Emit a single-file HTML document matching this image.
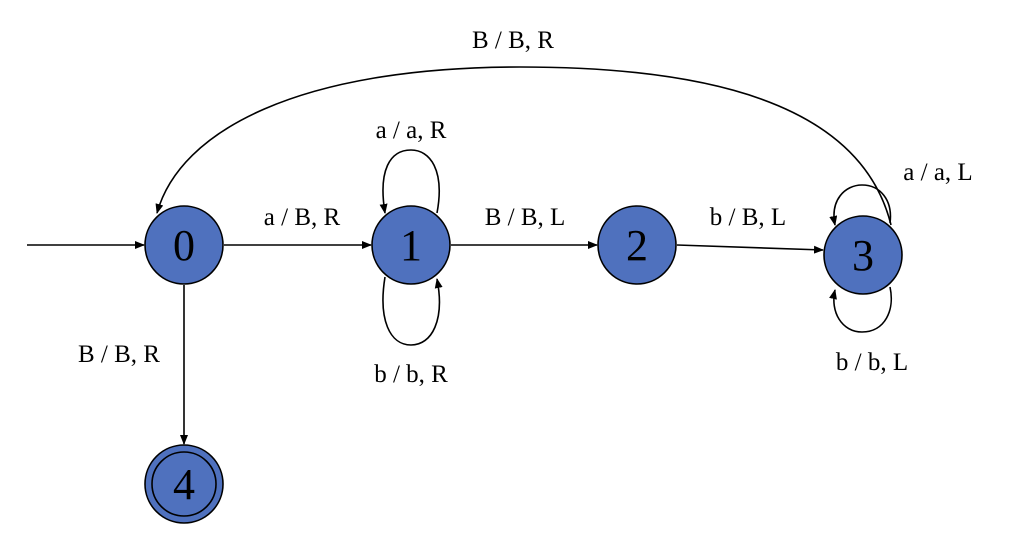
<!DOCTYPE html>
<html><head><style>body{margin:0;background:#fff}svg{display:block}text{font-family:"Liberation Serif",serif;fill:#000}</style></head><body>
<svg width="1018" height="548" viewBox="0 0 1018 548">
<defs><marker id="a" markerWidth="10" markerHeight="8" refX="9" refY="4" orient="auto" markerUnits="userSpaceOnUse"><path d="M0,0L10,4L0,8z" fill="#000"/></marker></defs>
<g stroke="#000" stroke-width="1.6" fill="none">
<line x1="27" y1="245" x2="144" y2="245" marker-end="url(#a)"/>
<line x1="224" y1="245" x2="371" y2="245" marker-end="url(#a)"/>
<line x1="451" y1="245" x2="597" y2="245" marker-end="url(#a)"/>
<line x1="677" y1="245" x2="823" y2="250" marker-end="url(#a)"/>
<line x1="184" y1="285" x2="184" y2="444" marker-end="url(#a)"/>
<path d="M891,225 C860,100 700,67 520,67 C300,67 180,130 157,213" marker-end="url(#a)"/>
<path d="M437,213 C445,170 430,150 411,150 C390,150 378,170 385,213" marker-end="url(#a)"/>
<path d="M385,277 C378,320 390,345 411,345 C432,345 445,320 437,279" marker-end="url(#a)"/>
<path d="M890,223 C893,200 880,185 862,185 C845,185 830,200 835,225" marker-end="url(#a)"/>
<path d="M890,287 C895,310 885,332 862,332 C842,332 830,312 835,290" marker-end="url(#a)"/>
</g>
<g fill="#4f71be" stroke="#000" stroke-width="1.6">
<circle cx="184" cy="245" r="39"/><circle cx="411" cy="245" r="39"/><circle cx="637" cy="245" r="39"/><circle cx="863" cy="255" r="39"/><circle cx="184" cy="484" r="39"/><circle cx="184" cy="484" r="32"/>
</g>
<g font-size="44" text-anchor="middle">
<text x="184" y="260">0</text><text x="411" y="260">1</text><text x="637" y="260">2</text><text x="863" y="270">3</text><text x="184" y="499">4</text>
</g>
<g font-size="25" text-anchor="middle">
<text x="513" y="48">B / B, R</text>
<text x="302" y="225">a / B, R</text>
<text x="411" y="138">a / a, R</text>
<text x="525" y="225">B / B, L</text>
<text x="748" y="225">b / B, L</text>
<text x="938" y="180">a / a, L</text>
<text x="411" y="382">b / b, R</text>
<text x="872" y="370">b / b, L</text>
<text x="119" y="362">B / B, R</text>
</g>
</svg></body></html>
